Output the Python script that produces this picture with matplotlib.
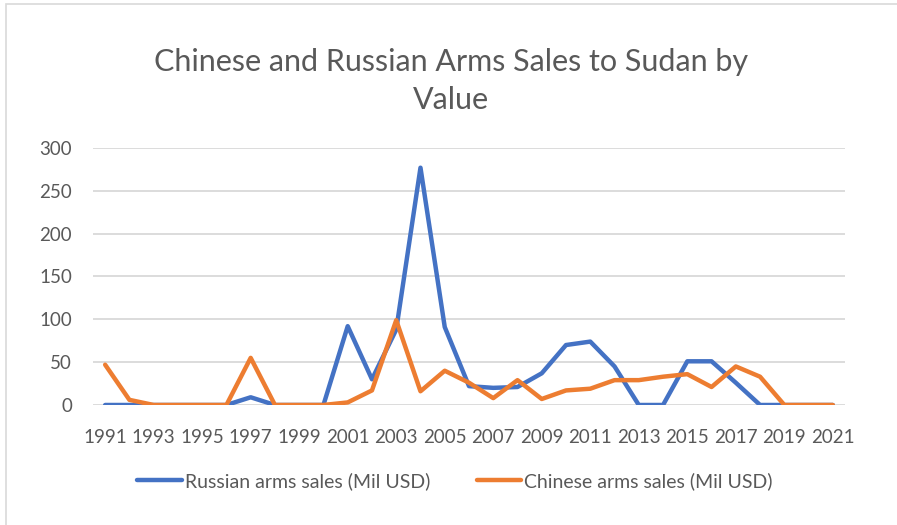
import matplotlib.pyplot as plt
from matplotlib.patches import Rectangle

years = list(range(1991, 2022))

russian = [0, 0, 0, 0, 0, 0, 9, 0, 0, 0,
           92, 30, 88, 277, 91, 22, 20, 21, 37, 70,
           74, 45, 0, 0, 51, 51, 26, 0, 0, 0, 0]

chinese = [47, 6, 0, 0, 0, 0, 55, 0, 0, 0,
           3, 17, 99, 16, 40, 26, 8, 29, 7, 17,
           19, 29, 29, 33, 36, 21, 45, 33, 0, 0, 0]

y_ticks = [0, 50, 100, 150, 200, 250, 300]
x_ticks = years[::2]

TEXT = "#595959"
GRID = "#D9D9D9"

plt.rcParams["font.family"] = ["Lato", "DejaVu Sans"]

fig = plt.figure(figsize=(8.97, 5.25), dpi=100)
ax = fig.add_axes([0.1037, 0.2286, 0.8383, 0.4895])

ax.plot(years, russian, color="#4472C4", lw=3.2, solid_joinstyle="round",
        solid_capstyle="round", label="Russian arms sales (Mil USD)")
ax.plot(years, chinese, color="#ED7D31", lw=3.2, solid_joinstyle="round",
        solid_capstyle="round", label="Chinese arms sales (Mil USD)")

ax.set_xlim(1990.5, 2021.5)
ax.set_ylim(0, 300)
ax.set_yticks(y_ticks)
ax.set_xticks(x_ticks)
ax.set_xticklabels([str(y) for y in x_ticks])
ax.grid(axis="y", color=GRID, lw=1.3)
ax.set_axisbelow(True)
for side in ["top", "right", "left", "bottom"]:
    ax.spines[side].set_visible(False)
ax.tick_params(length=0, labelsize=13.5, colors=TEXT)
ax.tick_params(axis="y", pad=15)
ax.tick_params(axis="x", pad=17)

fig.text(0.503, 0.846, "Chinese and Russian Arms Sales to Sudan by\nValue",
         ha="center", va="center", fontsize=22, color=TEXT, linespacing=1.45)

leg = fig.legend(loc="center", bbox_to_anchor=(0.507, 0.084), ncol=2,
                 frameon=False, fontsize=14, handlelength=2.3,
                 handletextpad=0.15, columnspacing=2.4)
for t in leg.get_texts():
    t.set_color(TEXT)

# light frame on the top and left edges
fig.patches.append(Rectangle((6 / 897, -0.1), 1.2, 1 - 4 / 525 + 0.1,
                             transform=fig.transFigure, fill=False,
                             edgecolor="#D9D9D9", lw=1.2))

fig.savefig("out.png", dpi=100)
